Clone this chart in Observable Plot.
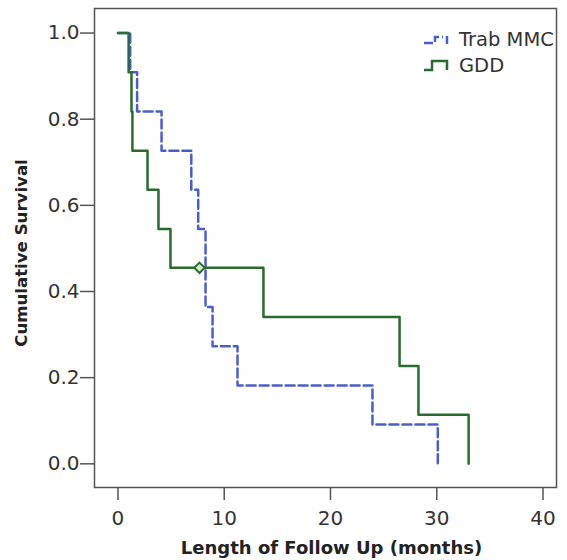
<!DOCTYPE html>
<html>
<head>
<meta charset="utf-8">
<script src="https://cdn.jsdelivr.net/npm/d3@7"></script>
<script src="https://cdn.jsdelivr.net/npm/@observablehq/plot@0.6"></script>
<style>
  html, body { margin: 0; padding: 0; background: #fff; }
  #wrap { position: relative; width: 567px; height: 560px; font-family: "DejaVu Sans", sans-serif; }
  #legend { position: absolute; left: 423px; top: 27px; color: #333; font-size: 19.5px; line-height: 26px; }
  #legend .item { display: flex; align-items: center; height: 26px; }
  #legend svg { margin-right: 8px; }
</style>
</head>
<body>
<div id="wrap">
  <div id="chart"></div>
  <div id="legend"></div>
</div>
<script>
// Series: Kaplan-Meier steps (time in months, cumulative survival after event)
const seriesNames = ["Trab MMC", "GDD"];
const trabTime = [0, 1.15, 1.8, 4.1, 6.9, 7.55, 8.24, 8.9, 11.25, 23.95, 30.1];
const trabSurv = [1.0, 0.909, 0.818, 0.727, 0.636, 0.545, 0.364, 0.273, 0.182, 0.091, 0.0];
const gddTime = [0, 1.0, 1.27, 1.36, 2.78, 3.81, 4.94, 13.69, 26.5, 28.28, 33.0];
const gddSurv = [1.0, 0.909, 0.818, 0.727, 0.636, 0.545, 0.455, 0.341, 0.227, 0.114, 0.0];
// Censored observation
const gddCensorTime = [7.67];
const gddCensorSurv = [0.455];
// Ticks
const xTicks = [0, 10, 20, 30, 40];
const yTicks = [0.0, 0.2, 0.4, 0.6, 0.8, 1.0];

const blue = "#4b5ec8";
const green = "#2b6a30";

const trab = trabTime.map((t, i) => ({time: t, surv: trabSurv[i]}));
const gdd = gddTime.map((t, i) => ({time: t, surv: gddSurv[i]}));
const censor = gddCensorTime.map((t, i) => ({time: t, surv: gddCensorSurv[i]}));

const chart = Plot.plot({
  width: 567,
  height: 560,
  marginLeft: 94,
  marginRight: 11,
  marginTop: 8,
  marginBottom: 73,
  style: {fontFamily: "DejaVu Sans, sans-serif", background: "#fff"},
  x: {domain: [-2.21, 41.27]},
  y: {domain: [-0.055, 1.057]},
  marks: [
    Plot.frame({stroke: "#555", strokeWidth: 1.5}),
    Plot.axisX({ticks: xTicks, tickSize: 13, tickPadding: 10, fontSize: 20, stroke: "#555", strokeWidth: 1.5, color: "#333", label: null}),
    Plot.axisY({ticks: yTicks, tickFormat: d3.format(".1f"), tickSize: 14, tickPadding: 1, fontSize: 20, stroke: "#555", strokeWidth: 1.5, color: "#333", label: null}),
    Plot.text(["Length of Follow Up (months)"], {frameAnchor: "bottom", textAnchor: "middle", dx: 6, dy: 61, fontWeight: "bold", fontSize: 18, fill: "#222", lineAnchor: "middle"}),
    Plot.text(["Cumulative Survival"], {frameAnchor: "left", textAnchor: "middle", dx: -73, dy: 5, rotate: -90, fontWeight: "bold", fontSize: 16.6, fill: "#222", lineAnchor: "middle"}),
    Plot.line(trab, {x: "time", y: "surv", curve: "step-after", stroke: blue, strokeWidth: 2.5, strokeDasharray: "9,4"}),
    Plot.line(gdd, {x: "time", y: "surv", curve: "step-after", stroke: green, strokeWidth: 2.5}),
    Plot.dot(censor, {x: "time", y: "surv", symbol: "diamond2", r: 4.7, stroke: green, strokeWidth: 2, fill: "#d3ebc2"})
  ]
});
document.getElementById("chart").appendChild(chart);

// Legend
const legend = document.getElementById("legend");
const icons = [
  `<svg width="28" height="14"><path d="M1,10H12V4H20M24,3V11" fill="none" stroke="${blue}" stroke-width="2.5" stroke-dasharray="9,3"/></svg>`,
  `<svg width="28" height="14"><path d="M1,11H9V2H24V11" fill="none" stroke="${green}" stroke-width="2.5"/></svg>`
];
seriesNames.forEach((name, i) => {
  const d = document.createElement("div");
  d.className = "item";
  d.innerHTML = icons[i] + `<span>${name}</span>`;
  legend.appendChild(d);
});
</script>
</body>
</html>
